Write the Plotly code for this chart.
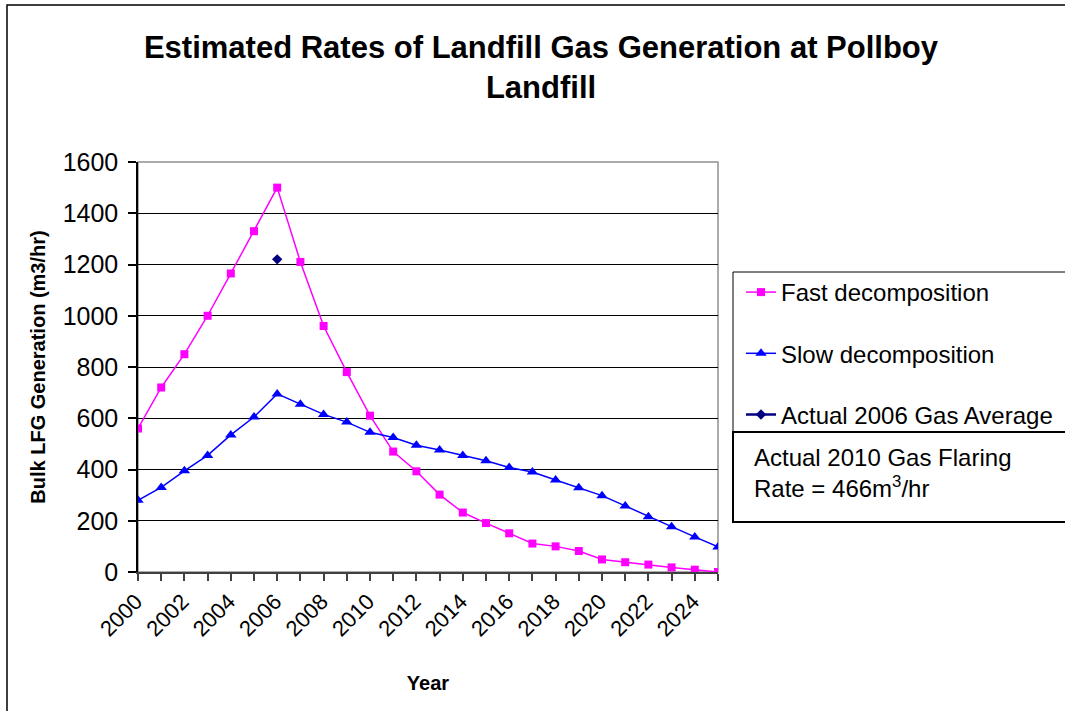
import plotly.graph_objects as go

years = list(range(2000, 2026))
fast_decomposition = [560, 720, 850, 1000, 1165, 1330, 1500, 1210, 960, 780, 610, 470,
                      393, 302, 232, 191, 151, 111, 100, 82, 49, 38, 29, 18, 9, 0]
slow_decomposition = [280, 330, 395, 455, 535, 605, 695, 655, 615, 585, 545, 525,
                      495, 476, 455, 434, 408, 390, 359, 329, 298, 258, 216, 177, 137, 98]
actual_year = [2006]
actual_2006_average = [1220]

W, H = 1065, 711
L, R, T, B = 138, 718, 162, 572
pw, ph = R - L, B - T


def px_x(x):
    return (x - L) / pw


def px_y(y):
    return (B - y) / ph


FONT = "Liberation Sans, Arial, sans-serif"

fig = go.Figure()
fig.add_trace(go.Scatter(
    x=years, y=fast_decomposition, name="Fast decomposition", mode="lines+markers",
    line=dict(color="#FF00FF", width=1.5),
    marker=dict(symbol="square", size=8, color="#FF00FF"),
    legendgroup="a"))
fig.add_trace(go.Scatter(
    x=years, y=slow_decomposition, name="Slow decomposition", mode="lines+markers",
    line=dict(color="#0000FF", width=1.5),
    marker=dict(symbol="triangle-up", size=10, color="#0000FF"),
    legendgroup="b"))
fig.add_trace(go.Scatter(
    x=actual_year, y=actual_2006_average, name="Actual 2006 Gas Average", mode="lines+markers",
    line=dict(color="#000080", width=2.5),
    marker=dict(symbol="diamond", size=8, color="#000080"),
    legendgroup="c"))

shapes = [
    # outer chart border
    dict(type="rect", xref="paper", yref="paper", x0=px_x(7), x1=px_x(1080),
         y0=px_y(730), y1=px_y(5), line=dict(color="#000000", width=1.5), layer="above"),
    # plot area border
    dict(type="rect", xref="paper", yref="paper", x0=0, x1=1, y0=0, y1=1,
         line=dict(color="#909090", width=1.5), layer="below"),
    # legend frame
    dict(type="rect", xref="paper", yref="paper", x0=px_x(733), x1=px_x(1080),
         y0=px_y(432), y1=px_y(272), line=dict(color="#000000", width=1),
         fillcolor="white", layer="above"),
    # text box
    dict(type="rect", xref="paper", yref="paper", x0=px_x(733), x1=px_x(1080),
         y0=px_y(522), y1=px_y(432), line=dict(color="#000000", width=2),
         fillcolor="white", layer="above"),
]

annotations = [
    dict(xref="paper", yref="paper", x=px_x(752), y=px_y(473), xanchor="left", yanchor="middle",
         text="Actual 2010 Gas Flaring<br>Rate = 466m<sup>3</sup>/hr", align="left",
         showarrow=False, font=dict(family=FONT, size=24, color="#000000")),
]

fig.update_layout(
    width=W, height=H,
    margin=dict(l=L, r=W - R, t=T, b=H - B, autoexpand=False),
    paper_bgcolor="white", plot_bgcolor="white",
    font=dict(family=FONT, color="#000000"),
    title=dict(text="<b>Estimated Rates of Landfill Gas Generation at Pollboy<br>Landfill</b>",
               x=541 / W, xanchor="center", y=1 - 58 / H, yanchor="middle",
               font=dict(family=FONT, size=31, color="#000000")),
    xaxis=dict(range=[2000, 2025], tick0=2000, dtick=2, tickformat="d", tickangle=-45,
               ticks="outside", ticklen=7, tickcolor="#404040", tickwidth=1.5,
               minor=dict(tick0=2000, dtick=1, ticks="outside", ticklen=7,
                          tickcolor="#404040", tickwidth=1.5, showgrid=False),
               showline=True, linecolor="#404040", linewidth=2,
               showgrid=False, zeroline=False,
               ticklabelshift=-2, ticklabelstandoff=-1,
               tickfont=dict(family=FONT, size=22, color="#000000"),
               title=dict(text="<b>Year</b>", font=dict(family=FONT, size=20, color="#000000"),
                          standoff=36)),
    yaxis=dict(range=[0, 1600], dtick=200, ticks="outside", ticklen=8, tickcolor="#000000",
               tickwidth=1.5, showline=True, linecolor="#000000", linewidth=1.5,
               showgrid=True, gridcolor="#000000", gridwidth=1, zeroline=False,
               ticklabelstandoff=5,
               tickfont=dict(family=FONT, size=25, color="#000000"),
               title=dict(text="<b>Bulk LFG Generation (m3/hr)</b>",
                          font=dict(family=FONT, size=20, color="#000000"), standoff=12)),
    legend=dict(x=px_x(741), y=px_y(270), xanchor="left", yanchor="top",
                bgcolor="rgba(0,0,0,0)", borderwidth=0, tracegroupgap=27,
                font=dict(family=FONT, size=24, color="#000000")),
    shapes=shapes, annotations=annotations,
)

fig.write_html("out.html", config={"displayModeBar": False},
               post_script="document.body.style.margin='0';")
